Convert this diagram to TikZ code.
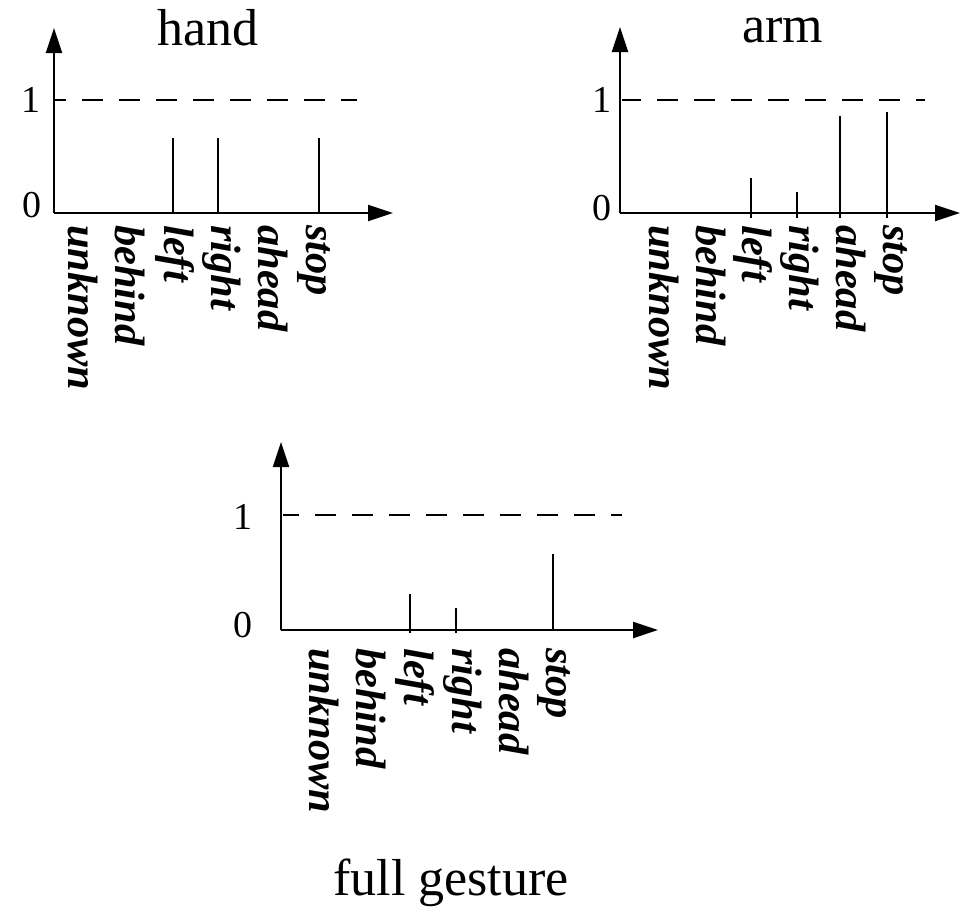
\documentclass[tikz,border=0pt]{standalone}
\usepackage{fontspec}
\setmainfont{Liberation Serif}
\usetikzlibrary{arrows.meta}
\begin{document}
\begin{tikzpicture}[x=1pt,y=-1pt,
 axis/.style={line width=2.3pt,-{Triangle[length=25pt,width=16pt]}},
 bar/.style={line width=2pt},
 ref/.style={line width=2pt,dash pattern=on 21pt off 16pt},
 lab/.style={rotate=-90,anchor=base west,inner sep=0pt,font=\fontsize{42.5}{42.5}\selectfont\bfseries\itshape},
 num/.style={inner sep=0pt,font=\fontsize{38}{38}\selectfont},
 title/.style={inner sep=0pt,anchor=base,font=\fontsize{52}{52}\selectfont}]
\path[use as bounding box] (0,0) rectangle (963,911);
% ---------------- hand
\coordinate (hO) at (54,213);
\coordinate (hY) at (54,28);
\coordinate (hX) at (393,213);
\coordinate (hD1) at (55,100);
\coordinate (hD2) at (357,100);
\draw[axis] (hO) -- (hY);
\draw[axis] (hO) -- (hX);
\draw[ref,dash phase=10pt] (hD1) -- (hD2);
\foreach \n/\x/\t in {a/173/138,b/218/138,c/319/138}{
  \coordinate (hb\n0) at (\x,213); \coordinate (hb\n1) at (\x,\t);
  \draw[bar] (hb\n0) -- (hb\n1);}
\node[title] (htitle) at (208,45) {hand};
\node[num] (hone) at (31,100) {1};
\node[num] (hzero) at (32,205) {0};
\foreach \n/\x/\w in {a/68/unknown,b/115/behind,c/164/left,d/211/right,e/258/ahead,f/306/stop}
  \node[lab] (hl\n) at (\x,225) {\w};
% ---------------- arm
\coordinate (aO) at (620,213);
\coordinate (aY) at (620,27);
\coordinate (aX) at (960,213);
\coordinate (aD1) at (622,100);
\coordinate (aD2) at (925,100);
\draw[axis] (aO) -- (aY);
\draw[axis] (aO) -- (aX);
\draw[ref,dash phase=2pt] (aD1) -- (aD2);
\foreach \n/\x/\t in {a/751/178,b/797/192,c/840/116,d/887/112}{
  \coordinate (ab\n0) at (\x,218); \coordinate (ab\n1) at (\x,\t);
  \draw[bar] (ab\n0) -- (ab\n1);}
\node[title] (atitle) at (783,42) {arm};
\node[num] (aone) at (602,100) {1};
\node[num] (azero) at (602,208) {0};
\foreach \n/\x/\w in {a/649/unknown,b/696/behind,c/742/left,d/789/right,e/836/ahead,f/883/stop}
  \node[lab] (al\n) at (\x,225) {\w};
% ---------------- full gesture
\coordinate (fO) at (281,630);
\coordinate (fY) at (281,442);
\coordinate (fX) at (658,630);
\coordinate (fD1) at (283,515);
\coordinate (fD2) at (622,515);
\draw[axis] (fO) -- (fY);
\draw[axis] (fO) -- (fX);
\draw[ref,dash phase=5pt] (fD1) -- (fD2);
\foreach \n/\x/\t/\b in {a/410/594/633,b/456/608/633,c/553/554/630}{
  \coordinate (fb\n0) at (\x,\b); \coordinate (fb\n1) at (\x,\t);
  \draw[bar] (fb\n0) -- (fb\n1);}
\node[title] (ftitle) at (451,895) {full gesture};
\node[num] (fone) at (243,517) {1};
\node[num] (fzero) at (243,625) {0};
\foreach \n/\x/\w in {a/309/unknown,b/356/behind,c/404/left,d/452/right,e/499/ahead,f/546/stop}
  \node[lab] (fl\n) at (\x,648) {\w};
\end{tikzpicture}
\end{document}
